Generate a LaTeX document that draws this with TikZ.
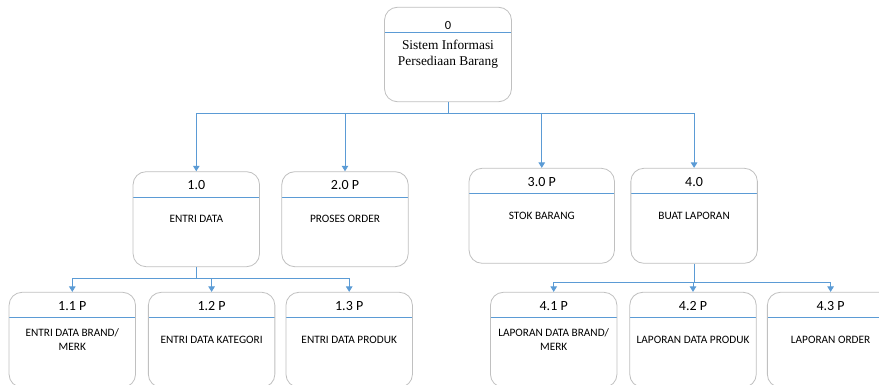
\documentclass[tikz,border=0pt]{standalone}
\usepackage{fontspec}
\setmainfont{Carlito}
\newfontfamily\serifbody{Liberation Serif}
\usetikzlibrary{arrows.meta,positioning}
\definecolor{linkblue}{RGB}{91,155,213}
\definecolor{boxgray}{RGB}{192,192,192}

\begin{document}
\begin{tikzpicture}[
  x=1pt,y=1pt,
  every node/.style={align=center},
  proc/.style={draw=boxgray,line width=0.8pt,rounded corners=13pt,fill=white,
               minimum width=126.5pt,minimum height=95pt,inner sep=2pt,
               font=\fontsize{11.3}{14}\selectfont,
               path picture={\draw[linkblue,line width=1pt]
                 ([yshift=-25.5pt]path picture bounding box.north west) --
                 ([yshift=-25.5pt]path picture bounding box.north east);}},
  num/.style={anchor=center,yshift=-14pt,font=\fontsize{14}{16}\selectfont},
  wire/.style={draw=linkblue,line width=1pt},
  arr/.style={wire,-{Triangle[width=6.5pt,length=5.5pt]}}
]
\useasboundingbox (0,0) rectangle (879,-385);
\clip (0,0) rectangle (879,-385);

% context process
\node[proc,minimum width=127pt,minimum height=94.5pt,
      font=\serifbody\fontsize{13.4}{16}\selectfont,
      label={[num,yshift=-4.5pt,font=\fontsize{12.5}{14}\selectfont]north:0}]
  (p0) at (448,-54.5) {Sistem Informasi\\Persediaan Barang};

% level 1
\node[proc,label={[num]north:1.0}] (p10) at (196.3,-219.2) {ENTRI DATA};
\node[proc,right=21.4pt of p10,label={[num]north:2.0 P}] (p20) {PROSES ORDER};
\node[proc,minimum width=145.4pt,right=60pt of p20,yshift=3.4pt,
      label={[num]north:3.0 P}] (p30) {STOK BARANG};
\node[proc,right=15.6pt of p30,label={[num]north:4.0}] (p40) {BUAT LAPORAN};

% level 2
\node[proc,label={[num]north:1.1 P}] (p11) at (72.3,-339.8)
  {ENTRI DATA BRAND/\\MERK};
\node[proc,right=12pt of p11,label={[num]north:1.2 P}] (p12) {ENTRI DATA KATEGORI};
\node[proc,right=10.3pt of p12,label={[num]north:1.3 P}] (p13) {ENTRI DATA PRODUK};

\node[proc,label={[num]north:4.1 P}] (p41) at (553.7,-339.8)
  {LAPORAN DATA BRAND/\\MERK};
\node[proc,right=12pt of p41,label={[num]north:4.2 P}] (p42) {LAPORAN DATA PRODUK};
\node[proc,right=10.3pt of p42,label={[num]north:4.3 P}] (p43) {LAPORAN ORDER};

% connectors
\coordinate (bus0) at ([yshift=-11.3pt]p0.south);
\draw[wire] (p0.south) -- (bus0);
\draw[arr] (bus0) -| (p10.north);
\draw[arr] (bus0) -| (p20.north);
\draw[arr] (bus0) -| (p30.north);
\draw[arr] (bus0) -| (p40.north);

\coordinate (bus1) at ([yshift=-11.3pt]p10.south);
\draw[wire] (p10.south) -- (bus1);
\draw[arr] (bus1) -| (p11.north);
\draw[arr] (bus1) -| (p12.north);
\draw[arr] (bus1) -| (p13.north);

\coordinate (bus4) at ([yshift=-18.4pt]p40.south);
\draw[wire] (p40.south) -- (bus4);
\draw[arr] (bus4) -| (p41.north);
\draw[arr] (bus4) -| (p42.north);
\draw[arr] (bus4) -| (p43.north);
\end{tikzpicture}
\end{document}
